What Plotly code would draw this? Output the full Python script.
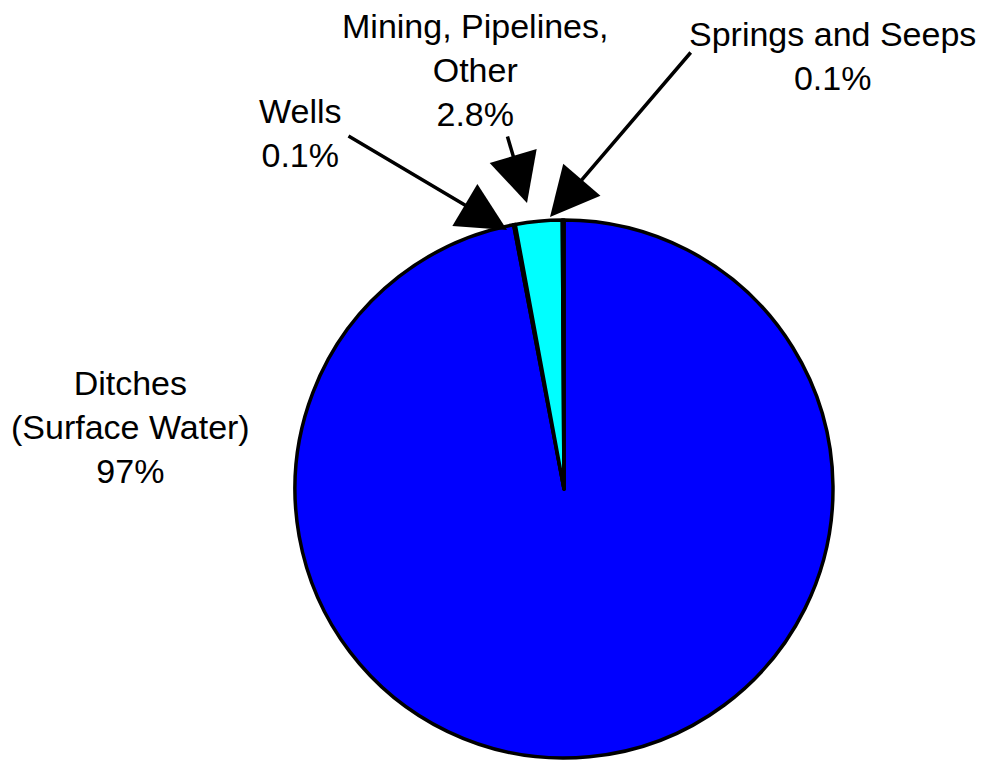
import plotly.graph_objects as go

# Water withdrawals by source type
labels = ["Ditches (Surface Water)", "Wells", "Mining, Pipelines, Other", "Springs and Seeps"]
shares = [97.0, 0.1, 2.8, 0.1]
share_text = ["97%", "0.1%", "2.8%", "0.1%"]
colors = ["#0000FF", "#FFFFFF", "#00FFFF", "#CCCCFF"]

W, H = 986, 761


def px(x):
    return x / W


def py(y):
    return 1 - y / H


fig = go.Figure(
    go.Pie(
        labels=labels,
        values=shares,
        sort=False,
        direction="clockwise",
        rotation=0,
        textinfo="none",
        hoverinfo="label+percent",
        marker=dict(colors=colors, line=dict(color="#000000", width=3.5)),
        domain=dict(x=[px(295), px(833)], y=[py(759), py(219)]),
        showlegend=False,
    )
)

font = dict(family="Liberation Sans, Arial, sans-serif", size=34, color="#000000")

# label text blocks: (text lines, centre x, centre y) in pixels
label_blocks = [
    (["Ditches", "(Surface Water)", share_text[0]], 130, 427),
    (["Wells", share_text[1]], 300, 133),
    (["Mining, Pipelines,", "Other", share_text[2]], 475, 70),
    (["Springs and Seeps", share_text[3]], 832, 56),
]

annotations = []
for lines, cx, cy in label_blocks:
    annotations.append(
        dict(
            text="<br>".join(lines),
            x=px(cx), y=py(cy), xref="paper", yref="paper",
            xanchor="center", yanchor="middle",
            showarrow=False, font=font, align="center",
        )
    )

# leader arrows: (tail x, tail y, tip x, tip y) in pixels
arrows = [
    (347, 135, 507, 230),
    (507, 135, 527, 203),
    (692, 51, 550, 217),
]
for tx, ty, hx, hy in arrows:
    annotations.append(
        dict(
            text="",
            x=px(hx), y=py(hy), xref="paper", yref="paper",
            ax=tx - hx, ay=ty - hy, axref="pixel", ayref="pixel",
            showarrow=True, arrowhead=2, arrowsize=2.8, arrowwidth=3.5,
            arrowcolor="#000000", standoff=0, startstandoff=0,
        )
    )

fig.update_layout(
    width=W, height=H,
    margin=dict(l=0, r=0, t=0, b=0),
    paper_bgcolor="#FFFFFF",
    plot_bgcolor="#FFFFFF",
    annotations=annotations,
)

fig.write_html("out.html")
